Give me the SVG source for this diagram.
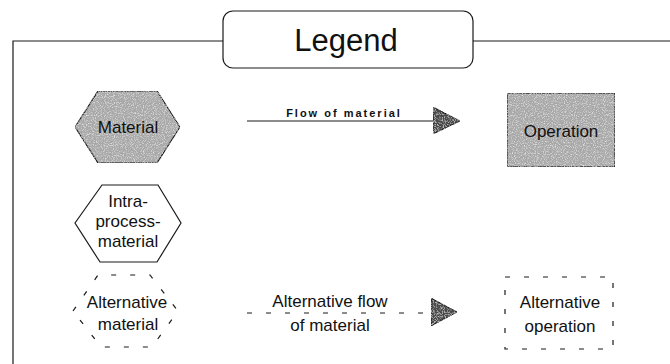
<svg xmlns="http://www.w3.org/2000/svg" width="670" height="364" viewBox="0 0 670 364">
  <defs>
    <!-- grainy halftone-like texture for shaded shapes -->
    <filter id="grain" x="0" y="0" width="100%" height="100%">
      <feTurbulence type="fractalNoise" baseFrequency="0.9" numOctaves="2" seed="3" result="noise"/>
      <feColorMatrix in="noise" type="matrix" values="0 0 0 0 1  0 0 0 0 1  0 0 0 0 1  0 0 0 1.6 -0.75" result="speck"/>
      <feComposite in="speck" in2="SourceGraphic" operator="in" result="speckIn"/>
      <feMerge>
        <feMergeNode in="SourceGraphic"/>
        <feMergeNode in="speckIn"/>
      </feMerge>
    </filter>
  </defs>
  <style>
    .frame { fill: none; stroke: #1a1a1a; stroke-width: 1.2; }
    .shade { fill: #a8a8a8; stroke: #1a1a1a; stroke-width: 1.2; }
    .plain { fill: #ffffff; stroke: #1a1a1a; stroke-width: 1.2; }
    .dash { fill: none; stroke: #1a1a1a; stroke-width: 1.2; stroke-dasharray: 5 14; }
    .line { fill: none; stroke: #1a1a1a; stroke-width: 1.2; }
    .head { fill: #4a4a4a; stroke: #1a1a1a; stroke-width: 1; }
    text { font-family: "Liberation Sans", Arial, Helvetica, sans-serif; fill: #111; text-anchor: middle; }
    .lbl { font-size: 17px; }
    .title { font-size: 31px; }
    .small { font-size: 11px; font-weight: bold; letter-spacing: 2px; }
  </style>

  <!-- outer frame -->
  <g id="frame">
    <polyline class="frame" points="223,41 13,41 13,364"/>
    <line class="frame" x1="473" y1="41" x2="670" y2="41"/>
  </g>

  <!-- title box -->
  <g id="legend-title">
    <rect class="plain" x="223" y="11" width="250" height="57" rx="10" ry="10"/>
    <text class="title" x="346" y="51">Legend</text>
  </g>

  <g id="material">
    <polygon class="shade" filter="url(#grain)" points="75,127 98,91 157,91 180,127 157,163 98,163"/>
    <text class="lbl" x="128" y="133">Material</text>
  </g>

  <g id="intra-process-material">
    <polygon class="plain" points="75,223 102,185 158,185 181,223 157,262 100,262"/>
    <text class="lbl" x="128" y="207">Intra-</text>
    <text class="lbl" x="128" y="227">process-</text>
    <text class="lbl" x="128" y="247">material</text>
  </g>

  <g id="alternative-material">
    <polygon class="dash" points="73,311 98,275 150,275 178,311 152,347 101,347"/>
    <text class="lbl" x="127" y="308">Alternative</text>
    <text class="lbl" x="128" y="330">material</text>
  </g>

  <g id="operation">
    <rect class="shade" filter="url(#grain)" x="507" y="93" width="108" height="74"/>
    <text class="lbl" x="561" y="137">Operation</text>
  </g>

  <g id="alternative-operation">
    <rect class="dash" x="505" y="277" width="108" height="72"/>
    <text class="lbl" x="560" y="308">Alternative</text>
    <text class="lbl" x="560" y="332">operation</text>
  </g>

  <!-- connectors -->
  <g id="connectors">
    <g id="flow-of-material">
      <line class="line" x1="247" y1="121" x2="434" y2="121"/>
      <polygon class="head" filter="url(#grain)" points="433,107 460,121 433,134"/>
      <text class="small" x="344" y="117">Flow of material</text>
    </g>
    <g id="alternative-flow">
      <line class="dash" x1="247" y1="313" x2="428" y2="313"/>
      <polygon class="head" filter="url(#grain)" points="431,298 457,312 431,326"/>
      <text class="lbl" x="330" y="307">Alternative flow</text>
      <text class="lbl" x="330" y="331">of material</text>
    </g>
  </g>
</svg>
